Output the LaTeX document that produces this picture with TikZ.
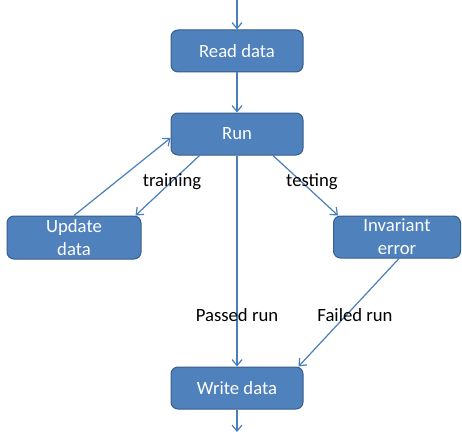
\documentclass[tikz,border=0pt]{standalone}
\usepackage{fontspec}
\setmainfont{Carlito}
\usetikzlibrary{arrows.meta}
\definecolor{boxfill}{HTML}{4F81BD}
\definecolor{boxline}{HTML}{385D8A}
\definecolor{arrowcol}{HTML}{4A7EBB}

\begin{document}
\begin{tikzpicture}[x=1pt, y=-1pt,
  stepbox/.style={rectangle, rounded corners=7pt, draw=boxline, line width=1pt, fill=boxfill,
    text=white, minimum width=132pt, minimum height=42pt, align=center, inner sep=0pt,
    font=\fontsize{18.7}{23}\selectfont},
  flow/.style={draw=arrowcol, line width=1.2pt, -{Straight Barb[length=6pt,width=10pt]}},
  lab/.style={font=\fontsize{18.7}{23}\selectfont, text=black}]
  \useasboundingbox (0,0) rectangle (462,433);

  \node[stepbox] (read) at (237,51) {Read data};
  \node[stepbox] (run) at (237,134) {Run};
  \node[stepbox, minimum width=134pt, minimum height=43pt] (upd) at (74,237.5) {Update\\data};
  \node[stepbox, minimum width=127pt] (inv) at (397,237) {Invariant\\error};
  \node[stepbox] (write) at (237,388) {Write data};

  \coordinate (in) at (237,0);
  \coordinate (out) at (237,432);

  \draw[flow] (in) -- (read.north);
  \draw[flow] (read) -- (run);
  \draw[flow] ([xshift=29pt]run.south west) -- ([xshift=-6pt]upd.north east);
  \draw[flow] (upd.north) -- ([yshift=-4pt]run.west);
  \draw[flow] ([xshift=36pt]run.south) -- ([xshift=5pt]inv.north west);
  \draw[flow] (run) -- (write);
  \draw[flow] ([xshift=2pt]inv.south) -- ([xshift=-5pt]write.north east);
  \draw[flow] (write.south) -- (out);

  \node[lab] (train) at (172,182) {training};
  \node[lab] (test) at (312,182) {testing};
  \node[lab] (pass) at (237,315) {Passed run};
  \node[lab] (fail) at (355,315) {Failed run};
\end{tikzpicture}
\end{document}
